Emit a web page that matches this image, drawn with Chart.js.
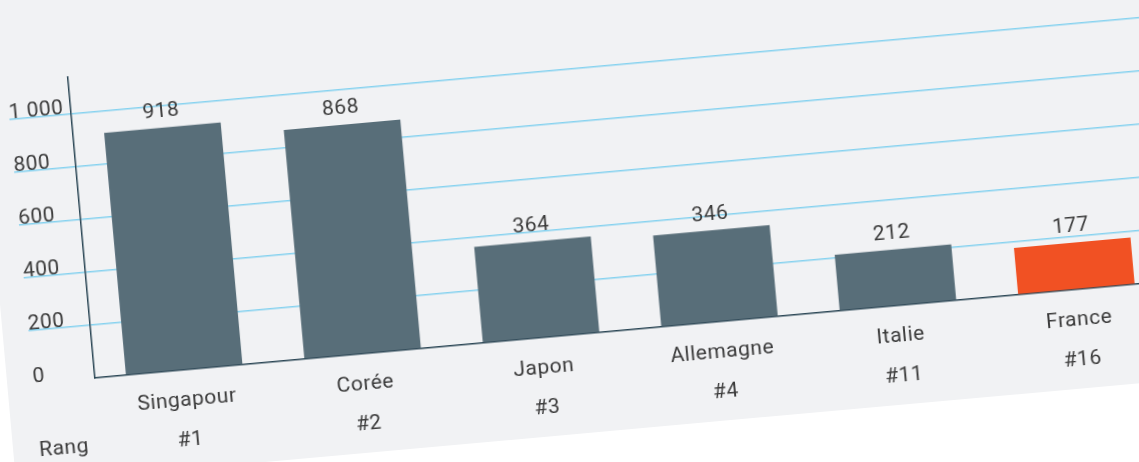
<!DOCTYPE html>
<html lang="fr">
<head>
<meta charset="utf-8">
<script src="https://cdn.jsdelivr.net/npm/chart.js@4/dist/chart.umd.min.js"></script>
<style>
    html, body { margin: 0; padding: 0; background: #fff; overflow: hidden; width: 1139px; height: 462px; }
    #carte {
        position: absolute; left: 7px; top: -42px; width: 1300px; height: 519px;
        background: #f1f2f4;
        transform-origin: 88px 420px;
        transform: rotate(-5.15deg);
    }
    #graph { position: absolute; left: 20px; top: 80px; }
</style>
</head>
<body>
<div id="carte"><canvas id="graph" width="1150" height="440"></canvas></div>
<script>
const pays = ['Singapour', 'Corée', 'Japon', 'Allemagne', 'Italie', 'France'];
const rangs = ['#1', '#2', '#3', '#4', '#11', '#16'];
const valeurs = [918, 868, 364, 346, 212, 177];
const graduations = [0, 200, 400, 600, 800, 1000];

const gris = '#586e79',
    orange = '#f15123',
    texte = '#3b3b3b',
    axe = '#2b4655',
    bleu = '#86d2ef';

function formatNombre(v) {
    return String(v).replace(/\B(?=(\d{3})+(?!\d))/g, ' ');
}

// valeurs au-dessus des barres + "Rang"
const etiquettes = {
    id: 'etiquettes',
    beforeDraw(chart) {
        chart.ctx.letterSpacing = '0.5px';
    },
    afterDatasetsDraw(chart) {
        const ctx = chart.ctx,
            meta = chart.getDatasetMeta(0);
        ctx.save();
        ctx.font = '21px Roboto';
        ctx.fillStyle = texte;
        ctx.textAlign = 'center';
        ctx.textBaseline = 'middle';
        meta.data.forEach((barre, i) => {
            ctx.fillText(valeurs[i], barre.x, barre.y - 16);
        });
        ctx.textAlign = 'left';
        ctx.fillText('Rang', chart.chartArea.left - 62, chart.chartArea.bottom + 68);
        ctx.restore();
    }
};

new Chart(document.getElementById('graph'), {
    type: 'bar',
    data: {
        labels: pays.map((p, i) => [p, rangs[i]]),
        datasets: [{
            data: valeurs,
            backgroundColor: valeurs.map((v, i) => pays[i] === 'France' ? orange : gris),
            barPercentage: 0.653,
            categoryPercentage: 1,
        }]
    },
    options: {
        responsive: false,
        animation: false,
        devicePixelRatio: 1,
        layout: { padding: { left: 6, top: 38, right: 7, bottom: 10 } },
        plugins: { legend: { display: false }, tooltip: { enabled: false } },
        scales: {
            x: {
                grid: { display: false },
                border: { display: true, color: axe, width: 1.5 },
                ticks: {
                    color: texte,
                    padding: 3,
                    maxRotation: 0,
                    font: { family: 'Roboto', size: 21, lineHeight: 1.9 },
                },
                afterFit: s => { s.height = 90; },
            },
            y: {
                min: 0,
                max: 1140,
                afterBuildTicks: s => { s.ticks = graduations.map(v => ({ value: v })); },
                afterFit: s => { s.width = 62; },
                grid: {
                    color: c => c.tick && c.tick.value === 0 ? 'rgba(0,0,0,0)' : bleu,
                    lineWidth: 1.5,
                    drawTicks: true,
                    tickLength: 62,
                },
                border: { display: true, color: axe, width: 1.5 },
                ticks: {
                    color: texte,
                    crossAlign: 'far',
                    padding: 0,
                    labelOffset: -6,
                    font: { family: 'Roboto', size: 21 },
                    callback: v => formatNombre(v),
                },
            }
        }
    },
    plugins: [etiquettes]
});
</script>
</body>
</html>
